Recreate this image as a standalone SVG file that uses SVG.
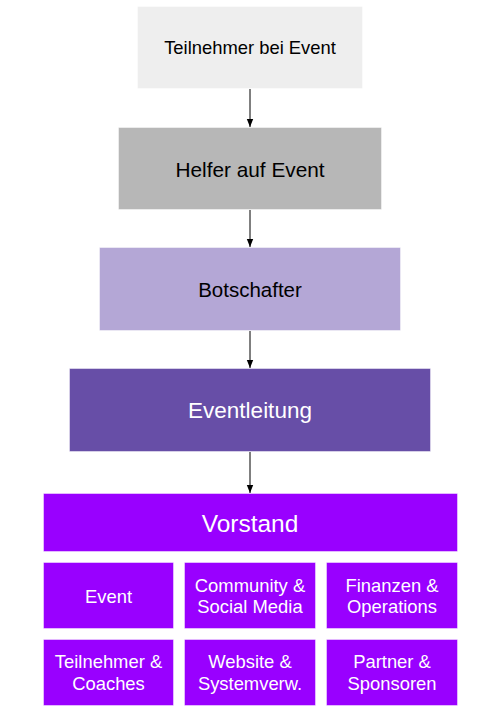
<svg xmlns="http://www.w3.org/2000/svg" width="489" height="727" viewBox="0 0 489 727">
<style>
  text{font-family:"Liberation Sans",Arial,sans-serif;text-anchor:middle}
  .b{stroke:#ffffff;stroke-opacity:0.45;stroke-width:1}
  .p{fill:#9900ff}
  .w{fill:#ffffff}
  .sm{font-size:18.4px}
  .c{stroke:#000;stroke-width:1;fill:none;marker-end:url(#ah)}
</style>
<defs>
  <marker id="ah" viewBox="0 0 8 8" refX="8" refY="4" markerWidth="8" markerHeight="8" markerUnits="userSpaceOnUse" orient="auto">
    <path d="M0,0.8 L8,4 L0,7.2 Z" fill="#000"/>
  </marker>
</defs>
<rect width="489" height="727" fill="#ffffff"/>
<g id="connectors">
  <line class="c" x1="250" y1="89" x2="250" y2="127"/>
  <line class="c" x1="250" y1="210" x2="250" y2="247"/>
  <line class="c" x1="250" y1="331" x2="250" y2="368"/>
  <line class="c" x1="250" y1="452" x2="250" y2="493"/>
</g>
<g id="teilnehmer">
  <rect class="b" x="137.5" y="6.5" width="225" height="82" fill="#eeeeee"/>
  <text x="250" y="54.3" font-size="18.4" fill="#000">Teilnehmer bei Event</text>
</g>
<g id="helfer">
  <rect class="b" x="118.5" y="127.5" width="263" height="82" fill="#b7b7b7"/>
  <text x="250" y="176.5" font-size="20.8" fill="#000">Helfer auf Event</text>
</g>
<g id="botschafter">
  <rect class="b" x="99.5" y="247.5" width="301" height="83" fill="#b4a7d6"/>
  <text x="250" y="297" font-size="20.5" fill="#000">Botschafter</text>
</g>
<g id="eventleitung">
  <rect class="b" x="69.5" y="368.5" width="361" height="83" fill="#674ea7"/>
  <text class="w" x="250" y="418.3" font-size="22.5">Eventleitung</text>
</g>
<g id="vorstand">
  <rect class="b p" x="43.5" y="493.5" width="414" height="58"/>
  <text class="w" x="250" y="532" font-size="24.5">Vorstand</text>
</g>
<g id="event">
  <rect class="b p" x="43.5" y="562.5" width="130" height="66"/>
  <text class="w sm" x="108.5" y="602.5">Event</text>
</g>
<g id="community">
  <rect class="b p" x="184.5" y="562.5" width="131" height="66"/>
  <text class="w sm" x="250" y="591.7">Community &amp;</text>
  <text class="w sm" x="250" y="613.3">Social Media</text>
</g>
<g id="finanzen">
  <rect class="b p" x="326.5" y="562.5" width="131" height="66"/>
  <text class="w sm" x="392" y="591.7">Finanzen &amp;</text>
  <text class="w sm" x="392" y="613.3">Operations</text>
</g>
<g id="teilnehmer-coaches">
  <rect class="b p" x="43.5" y="639.5" width="130" height="66"/>
  <text class="w sm" x="108.5" y="668.3">Teilnehmer &amp;</text>
  <text class="w sm" x="108.5" y="690">Coaches</text>
</g>
<g id="website">
  <rect class="b p" x="184.5" y="639.5" width="131" height="66"/>
  <text class="w sm" x="250" y="668.3">Website &amp;</text>
  <text class="w sm" x="250" y="690">Systemverw.</text>
</g>
<g id="partner">
  <rect class="b p" x="326.5" y="639.5" width="131" height="66"/>
  <text class="w sm" x="392" y="668.3">Partner &amp;</text>
  <text class="w sm" x="392" y="690">Sponsoren</text>
</g>
</svg>
